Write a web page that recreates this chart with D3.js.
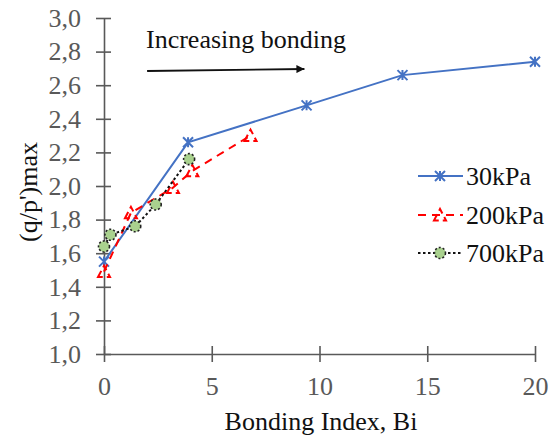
<!DOCTYPE html>
<html>
<head>
<meta charset="utf-8">
<script src="https://cdn.jsdelivr.net/npm/d3@7"></script>
</head>
<body style="margin:0">
<svg id="chart" width="556" height="438" font-family="Liberation Serif"></svg>
<script>
// Bonding index (Bi) for each confining pressure
const bi30 = [0, 3.9, 9.4, 13.85, 20];
const bi200 = [0, 1.25, 3.2, 4.1, 6.8];
const bi700 = [0, 0.3, 1.45, 2.4, 3.95];

// Peak stress ratio (q/p')max
const q30 = [1.55, 2.26, 2.48, 2.66, 2.74];
const q200 = [1.49, 1.84, 1.99, 2.09, 2.30];
const q700 = [1.64, 1.71, 1.76, 1.89, 2.16];

const seriesNames = ["30kPa", "200kPa", "700kPa"];
const xTicks = [0, 5, 10, 15, 20];
const yTicks = [1.0, 1.2, 1.4, 1.6, 1.8, 2.0, 2.2, 2.4, 2.6, 2.8, 3.0];

const svg = d3.select("#chart");
const x = d3.scaleLinear().domain([0, 20]).range([104, 535]);
const y = d3.scaleLinear().domain([1, 3]).range([354, 18]);

const axisColor = "#595959";
const fontSize = 26;

function styleText(sel, color) {
  return sel.attr("font-size", fontSize)
    .style("font-family", '"Liberation Serif"')
    .attr("fill", color);
}

// Y axis with ticks crossing the line
const gy = svg.append("g").attr("transform", `translate(${x(0)},0)`)
  .call(d3.axisLeft(y).tickValues(yTicks).tickSize(0).tickPadding(23)
    .tickFormat(d => d.toFixed(1).replace(".", ",")));
gy.attr("font-family", "Liberation Serif").attr("font-size", fontSize);
gy.select(".domain").attr("stroke", axisColor).attr("stroke-width", 1.6);
gy.selectAll(".tick").append("line")
  .attr("x1", -8).attr("x2", 7).attr("stroke", axisColor).attr("stroke-width", 1.6);
styleText(gy.selectAll(".tick text"), axisColor);

// X axis with ticks crossing the line
const gx = svg.append("g").attr("transform", `translate(0,${y(1)})`)
  .call(d3.axisBottom(x).tickValues(xTicks).tickSize(0).tickPadding(0)
    .tickFormat(d3.format("d")));
gx.attr("font-family", "Liberation Serif").attr("font-size", fontSize);
gx.select(".domain").attr("stroke", axisColor).attr("stroke-width", 1.6);
gx.selectAll(".tick").append("line")
  .attr("y1", -8).attr("y2", 8).attr("stroke", axisColor).attr("stroke-width", 1.6);
styleText(gx.selectAll(".tick text"), axisColor).attr("y", 41).attr("dy", null);

// Axis titles
styleText(svg.append("text"), "#111").attr("x", 321).attr("y", 430)
  .attr("text-anchor", "middle").text("Bonding Index, Bi");
styleText(svg.append("text"), "#111").attr("transform", "translate(37,192) rotate(-90)")
  .attr("text-anchor", "middle").text("(q/p')max");

// Annotation with arrow
svg.append("defs").append("marker").attr("id", "arrowhead")
  .attr("viewBox", "0 0 10 10").attr("refX", 10).attr("refY", 5)
  .attr("markerWidth", 10).attr("markerHeight", 8).attr("markerUnits", "userSpaceOnUse")
  .attr("orient", "auto")
  .append("path").attr("d", "M0,0 L10,5 L0,10 Z").attr("fill", "#111");
styleText(svg.append("text"), "#111").attr("x", 146).attr("y", 48).text("Increasing bonding");
svg.append("line").attr("x1", x(2)).attr("y1", 71).attr("x2", x(9.3)).attr("y2", 69)
  .attr("stroke", "#111").attr("stroke-width", 1.8).attr("marker-end", "url(#arrowhead)");

// Marker shapes
function starMarker(g, cx, cy, color) {
  const s = 5;
  g.append("path")
    .attr("d", `M${cx - s},${cy - s}L${cx + s},${cy + s}M${cx - s},${cy + s}L${cx + s},${cy - s}M${cx},${cy - s}L${cx},${cy + s}`)
    .attr("stroke", color).attr("stroke-width", 2).attr("fill", "none");
}
function triMarker(g, cx, cy, color) {
  const s = 6;
  g.append("path")
    .attr("d", `M${cx - s},${cy + s * 0.9}L${cx},${cy - s}L${cx + s},${cy + s * 0.9}Z`)
    .attr("stroke", color).attr("stroke-width", 2).attr("fill", "none")
    .attr("stroke-dasharray", "7,4");
}
function circMarker(g, cx, cy) {
  g.append("circle").attr("cx", cx).attr("cy", cy).attr("r", 5.5)
    .attr("fill", "#a9d18e").attr("stroke", "#222").attr("stroke-width", 1.6)
    .attr("stroke-dasharray", "2,2");
}

const series = [
  { name: seriesNames[0], xs: bi30, ys: q30, color: "#4472c4", dash: null, width: 2, marker: starMarker },
  { name: seriesNames[1], xs: bi200, ys: q200, color: "#ff0000", dash: "8,6", width: 2, marker: triMarker },
  { name: seriesNames[2], xs: bi700, ys: q700, color: "#111", dash: "2.5,2.5", width: 2, marker: (g, cx, cy) => circMarker(g, cx, cy) }
];

const line = d3.line().x(d => x(d[0])).y(d => y(d[1]));

series.forEach(s => {
  const pts = s.xs.map((v, i) => [v, s.ys[i]]);
  const g = svg.append("g");
  g.append("path").datum(pts).attr("d", line)
    .attr("fill", "none").attr("stroke", s.color).attr("stroke-width", s.width)
    .attr("stroke-dasharray", s.dash);
  pts.forEach(p => s.marker(g, x(p[0]), y(p[1]), s.color));
});

// Legend
const legendRows = [176, 215, 253];
series.forEach((s, i) => {
  const g = svg.append("g");
  const ly = legendRows[i];
  g.append("line").attr("x1", 418).attr("x2", 463).attr("y1", ly).attr("y2", ly)
    .attr("stroke", s.color).attr("stroke-width", s.width).attr("stroke-dasharray", s.dash);
  s.marker(g, 440, ly, s.color);
  styleText(g.append("text"), "#111").attr("x", 466).attr("y", ly + 9).text(s.name);
});
</script>
</body>
</html>
